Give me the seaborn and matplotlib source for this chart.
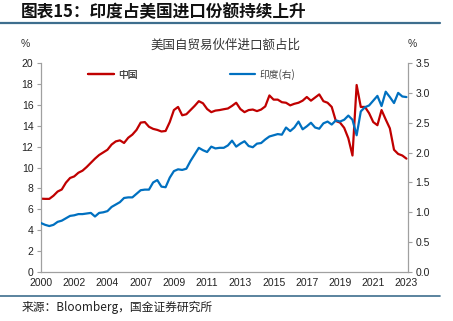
import numpy as np
import pandas as pd
import matplotlib
matplotlib.use("Agg")
import matplotlib.pyplot as plt
from matplotlib.lines import Line2D
import seaborn as sns

# ---------------- data ----------------
tick_labels = ["2000", "2002", "2004", "2007", "2009", "2011",
               "2013", "2015", "2017", "2019", "2021", "2023"]

china = [7.02, 7.00, 7.00, 7.30, 7.70, 7.90, 8.55, 9.00, 9.15, 9.50,
         9.70, 10.05, 10.45, 10.85, 11.20, 11.45, 11.70, 12.20, 12.50, 12.60,
         12.35, 12.85, 13.15, 13.60, 14.30, 14.35, 13.90, 13.70, 13.60, 13.45,
         13.50, 14.35, 15.50, 15.80, 15.00, 15.10, 15.50, 15.90, 16.35, 16.15,
         15.60, 15.30, 15.45, 15.50, 15.58, 15.65, 15.90, 16.20, 15.60, 15.30,
         15.50, 15.55, 15.40, 15.55, 15.85, 16.90, 16.50, 16.50, 16.25, 16.20,
         15.95, 16.10, 16.20, 16.40, 16.75, 16.40, 16.70, 17.00, 16.35, 16.20,
         15.80, 14.45, 14.30, 13.80, 12.80, 11.15, 17.90, 15.80, 15.80, 15.20,
         14.35, 14.05, 15.50, 14.60, 13.75, 11.70, 11.30, 11.15, 10.85]

india = [0.82, 0.79, 0.77, 0.79, 0.84, 0.86, 0.90, 0.94, 0.95, 0.97,
         0.97, 0.98, 0.99, 0.93, 0.99, 1.00, 1.02, 1.09, 1.13, 1.17,
         1.24, 1.25, 1.25, 1.31, 1.37, 1.38, 1.38, 1.50, 1.54, 1.43,
         1.42, 1.58, 1.69, 1.72, 1.71, 1.73, 1.86, 1.97, 2.08, 2.04,
         2.01, 2.10, 2.07, 2.08, 2.08, 2.12, 2.20, 2.10, 2.15, 2.19,
         2.11, 2.09, 2.15, 2.16, 2.22, 2.27, 2.29, 2.31, 2.30, 2.42,
         2.36, 2.42, 2.52, 2.39, 2.44, 2.50, 2.42, 2.40, 2.49, 2.52,
         2.47, 2.54, 2.52, 2.55, 2.62, 2.55, 2.29, 2.69, 2.76, 2.79,
         2.87, 2.95, 2.78, 3.02, 2.93, 2.83, 3.00, 2.94, 2.93]

left_ticks = [0, 2, 4, 6, 8, 10, 12, 14, 16, 18, 20]
right_ticks = [0.0, 0.5, 1.0, 1.5, 2.0, 2.5, 3.0, 3.5]

# ---------------- style ----------------
sns.set_theme(style="white")
plt.rcParams['font.family'] = ['Liberation Sans', 'Noto Sans CJK SC', 'DejaVu Sans']
CJK = ['Noto Sans CJK SC', 'DejaVu Sans']
RED = "#C00000"
BLUE = "#0070C0"
AXC = "#A0A0A0"

fig = plt.figure(figsize=(4.53, 3.21), dpi=100)
ax = fig.add_axes([0.0905, 0.1526, 0.810, 0.651])

df = pd.DataFrame({"idx": np.arange(len(china)), "china": china, "india": india})
sns.lineplot(data=df, x="idx", y="china", ax=ax, color=RED, linewidth=1.6)
ax2 = ax.twinx()
sns.lineplot(data=df, x="idx", y="india", ax=ax2, color=BLUE, linewidth=1.6)

n = len(china)
ax.set_xlim(0, (n - 1) + 0.35)
ax.set_ylim(0, 20)
ax2.set_ylim(0, 3.5)
step = (n - 1) // (len(tick_labels) - 1)
ax.set_xticks([i * step for i in range(len(tick_labels))])
ax.set_xticklabels(tick_labels)
ax.set_yticks(left_ticks)
ax.set_yticklabels([str(t) for t in left_ticks])
ax2.set_yticks(right_ticks)
ax2.set_yticklabels([f"{t:.1f}" for t in right_ticks])

for a in (ax, ax2):
    a.set_xlabel("")
    a.set_ylabel("")
    a.grid(False)
    a.spines['top'].set_visible(False)
    for s in ('left', 'right', 'bottom'):
        a.spines[s].set_color(AXC)
        a.spines[s].set_linewidth(0.9)
    a.tick_params(axis='y', which='major', labelsize=7.5, labelcolor='#222222',
                  color=AXC, length=3, width=0.8, direction='out', pad=2.5)
ax.tick_params(axis='x', which='major', labelsize=7.5, labelcolor='#222222',
               color=AXC, length=2.5, width=0.8, direction='in', pad=4.5)
ax.spines['right'].set_visible(False)
ax2.spines['left'].set_visible(False)
ax2.spines['bottom'].set_visible(False)

# legends
h1 = [Line2D([0], [0], color=RED, lw=1.6)]
h2 = [Line2D([0], [0], color=BLUE, lw=1.6)]
leg1 = ax.legend(h1, ["中国"], loc='center left', bbox_to_anchor=(0.105, 0.945),
                 frameon=False, handlelength=2.6, handletextpad=0.5,
                 prop={'family': CJK, 'size': 7}, labelcolor='#444444')
ax.add_artist(leg1)
ax2.legend(h2, ["印度(右)"], loc='center left', bbox_to_anchor=(0.49, 0.945),
           frameon=False, handlelength=2.6, handletextpad=0.5,
           prop={'family': CJK, 'size': 7}, labelcolor='#444444')

# texts
fig.text(0.045, 0.962, "图表15：印度占美国进口份额持续上升", fontsize=12,
         fontweight='bold', fontstyle='italic', family=CJK, color='#111111',
         va='center', ha='left')
fig.add_artist(Line2D([0.0, 0.972], [0.928, 0.928], color='#3E6E8E', lw=1.6,
                      transform=fig.transFigure))
fig.text(0.497, 0.858, "美国自贸易伙伴进口额占比", fontsize=9, family=CJK,
         color='#333333', ha='center', va='center')
fig.text(0.055, 0.864, "%", fontsize=7.5, color='#333333', ha='center', va='center')
fig.text(0.910, 0.864, "%", fontsize=7.5, color='#333333', ha='center', va='center')
fig.add_artist(Line2D([0.0, 0.972], [0.078, 0.078], color='#3E6E8E', lw=1.2,
                      transform=fig.transFigure))
fig.text(0.048, 0.043, "来源：Bloomberg，国金证券研究所", fontsize=8.5, family=CJK,
         color='#222222', ha='left', va='center')

fig.savefig("out.png", dpi=100)
